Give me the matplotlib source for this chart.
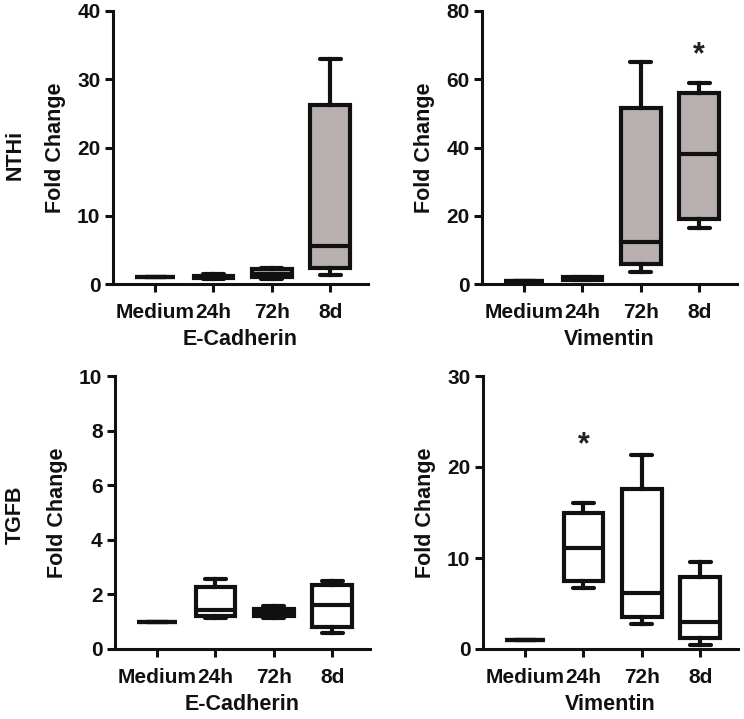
import matplotlib
matplotlib.use("Agg")
import matplotlib.pyplot as plt

plt.rcParams['font.family'] = ['Liberation Sans', 'DejaVu Sans']
plt.rcParams['font.weight'] = 'bold'

groups = ["Medium", "24h", "72h", "8d"]

# stats per group: (whislo, q1, med, q3, whishi)
ecad_nthi = [(1.0, 1.0, 1.0, 1.0, 1.0),
             (0.7, 0.9, 1.0, 1.2, 1.5),
             (0.8, 1.0, 1.5, 2.2, 2.4),
             (1.3, 2.4, 5.5, 26.2, 32.9)]
vim_nthi = [(1.0, 1.0, 1.0, 1.0, 1.0),
            (1.2, 1.2, 1.8, 2.1, 2.1),
            (3.6, 6.0, 12.2, 51.7, 65.0),
            (16.3, 19.0, 38.0, 55.9, 59.0)]
ecad_tgfb = [(1.0, 1.0, 1.0, 1.0, 1.0),
             (1.12, 1.22, 1.44, 2.27, 2.56),
             (1.12, 1.2, 1.32, 1.46, 1.56),
             (0.59, 0.8, 1.62, 2.33, 2.5)]
vim_tgfb = [(1.0, 1.0, 1.0, 1.0, 1.0),
            (6.7, 7.5, 11.1, 14.9, 16.0),
            (2.8, 3.5, 6.15, 17.6, 21.3),
            (0.4, 1.2, 3.0, 7.9, 9.6)]

# significance markers: (group index, y value)
sig_vim_nthi = [(3, 68.0)]
sig_vim_tgfb = [(1, 22.8)]

panels = [
    dict(data=ecad_nthi, ymax=40, yticks=[0, 10, 20, 30, 40], xlabel="E-Cadherin",
         fill="#b8b0ae", sig=[], pos=(113, 284, 368, 11)),
    dict(data=vim_nthi, ymax=80, yticks=[0, 20, 40, 60, 80], xlabel="Vimentin",
         fill="#b8b0ae", sig=sig_vim_nthi, pos=(482, 284, 737, 11)),
    dict(data=ecad_tgfb, ymax=10, yticks=[0, 2, 4, 6, 8, 10], xlabel="E-Cadherin",
         fill="white", sig=[], pos=(115, 649, 370, 376)),
    dict(data=vim_tgfb, ymax=30, yticks=[0, 10, 20, 30], xlabel="Vimentin",
         fill="white", sig=sig_vim_tgfb, pos=(483, 649, 738, 376)),
]

W, H = 744, 719
fig = plt.figure(figsize=(W / 100, H / 100), dpi=100)

FS = 15
LW = 3.0
for p in panels:
    x0, yb, x1, yt = p["pos"]
    ax = fig.add_axes([x0 / W, (H - yb) / H, (x1 - x0) / W, (yb - yt) / H])
    stats = []
    for g, (lo, q1, med, q3, hi) in zip(groups, p["data"]):
        stats.append(dict(label=g, whislo=lo, q1=q1, med=med, q3=q3, whishi=hi, fliers=[]))
    ax.bxp(stats, positions=[1, 2, 3, 4], widths=0.68, capwidths=0.36,
           patch_artist=True, showfliers=False,
           boxprops=dict(facecolor=p["fill"], edgecolor="#111111", linewidth=LW),
           medianprops=dict(color="#111111", linewidth=LW, solid_capstyle='butt'),
           whiskerprops=dict(color="#111111", linewidth=LW),
           capprops=dict(color="#111111", linewidth=LW, solid_capstyle='round'))
    ax.set_xlim(0.28, 4.65)
    ax.set_ylim(0, p["ymax"])
    ax.set_yticks(p["yticks"])
    ax.set_xticks([1, 2, 3, 4])
    ax.set_xticklabels(groups)
    for s in ["top", "right"]:
        ax.spines[s].set_visible(False)
    for s in ["left", "bottom"]:
        ax.spines[s].set_linewidth(2.2)
        ax.spines[s].set_color("#111111")
    ax.tick_params(axis='both', width=2.2, length=6, labelsize=FS, color="#111111",
                   labelcolor="#111111")
    ax.tick_params(axis='x', pad=8)
    ax.tick_params(axis='y', pad=3)
    ax.set_xlabel(p["xlabel"], fontsize=FS + 0.5, fontweight='bold', labelpad=5,
                  color="#111111")
    for gi, yv in p["sig"]:
        ax.text(gi + 1, yv, "*", fontsize=22, fontweight='bold', ha='center',
                va='center_baseline', color="#222222")
    for a in ax.get_children():
        try:
            a.set_clip_on(False)
        except Exception:
            pass
    # y label placed in figure pixels
    fig.text((x0 - 58) / W, 1 - ((yb + yt) / 2) / H, "Fold Change", rotation=90,
             ha='center', va='center', fontsize=FS + 0.5, fontweight='bold', color="#111111")

fig.text(15 / W, 1 - 155 / H, "NTHi", rotation=90, ha='center', va='center',
         fontsize=FS + 0.5, fontweight='bold', color="#111111")
fig.text(15 / W, 1 - 515 / H, "TGFB", rotation=90, ha='center', va='center',
         fontsize=FS + 0.5, fontweight='bold', color="#111111")

fig.savefig("out.png", dpi=100, facecolor="white")
